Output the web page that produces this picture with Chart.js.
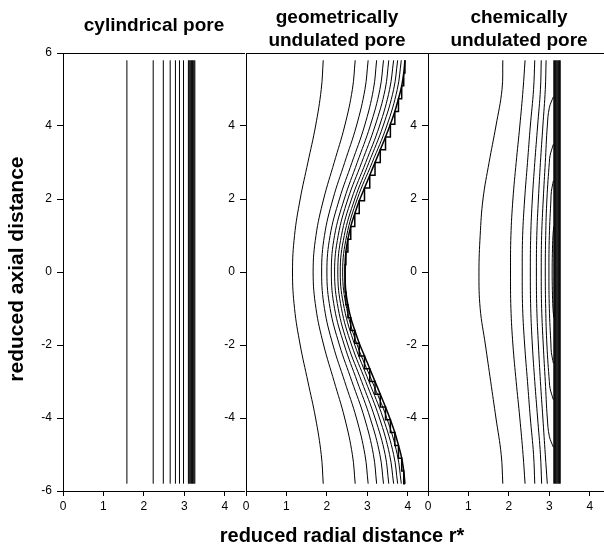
<!DOCTYPE html>
<html>
<head>
<meta charset="utf-8">
<script src="https://cdn.jsdelivr.net/npm/chart.js@4.4.0/dist/chart.umd.min.js"></script>
<style>
    html, body { margin: 0; padding: 0; background: #fff; overflow: hidden; }
    #wrap { position: relative; width: 604px; height: 551px; overflow: hidden; }
    #wrap canvas { position: absolute; top: 0; }
    #xTitle {
        position: absolute; left: 142px; width: 400px; top: 524px;
        text-align: center; line-height: 26px; white-space: nowrap;
        font: bold 20px 'Liberation Sans', Arial, sans-serif; color: #000;
    }
</style>
</head>
<body>
<div id="wrap">
    <canvas id="cyl" width="245" height="551" style="left:0px"></canvas>
    <canvas id="geo" width="245" height="551" style="left:183px"></canvas>
    <canvas id="chem" width="245" height="551" style="left:365px"></canvas>
    <div id="xTitle">reduced radial distance r*</div>
</div>
<script>
// Tick values
const xTicks = [0, 1, 2, 3, 4];
const yTicksFirst = [-6, -4, -2, 0, 2, 4, 6];
const yTicksInner = [-4, -2, 0, 2, 4];

// Cylindrical pore: straight contours, r* of each line
const cylEndsY = [-5.8, 5.8];
const cylLinesX = [1.58, 2.23, 2.48, 2.65, 2.78, 2.88, 2.98,
    3.10, 3.12, 3.14, 3.16, 3.18, 3.20, 3.22, 3.24, 3.26];

// Geometrically undulated pore: contours read at these heights
const geoY = [-5.8, -5, -4, -3, -2, -1, 0, 1, 2, 3, 4, 5, 5.8];
const geoLinesX = [
    [1.91, 1.86, 1.72, 1.53, 1.34, 1.20, 1.15, 1.20, 1.34, 1.53, 1.72, 1.86, 1.91],
    [2.70, 2.63, 2.44, 2.18, 1.92, 1.73, 1.66, 1.73, 1.92, 2.18, 2.44, 2.63, 2.70],
    [3.02, 2.94, 2.73, 2.44, 2.15, 1.94, 1.87, 1.94, 2.15, 2.44, 2.73, 2.94, 3.02],
    [3.23, 3.15, 2.93, 2.62, 2.31, 2.08, 2.00, 2.08, 2.31, 2.62, 2.93, 3.15, 3.23],
    [3.40, 3.31, 3.07, 2.75, 2.43, 2.19, 2.11, 2.19, 2.43, 2.75, 3.07, 3.31, 3.40],
    [3.53, 3.44, 3.19, 2.86, 2.52, 2.28, 2.19, 2.28, 2.52, 2.86, 3.19, 3.44, 3.53],
    [3.65, 3.55, 3.30, 2.96, 2.61, 2.36, 2.27, 2.36, 2.61, 2.96, 3.30, 3.55, 3.65],
    [3.75, 3.65, 3.39, 3.04, 2.69, 2.43, 2.33, 2.43, 2.69, 3.04, 3.39, 3.65, 3.75],
    [3.84, 3.74, 3.48, 3.12, 2.75, 2.49, 2.39, 2.49, 2.75, 3.12, 3.48, 3.74, 3.84]
];
// jagged pore wall
const geoWallY = [-5.8, -5.45, -5.1, -4.75, -4.4, -4.05, -3.7, -3.35, -3.0, -2.65, -2.3, -1.95, -1.6, -1.25, -0.9,
    -0.55, -0.2, 0.2, 0.55, 0.9, 1.25, 1.6, 1.95, 2.3, 2.65, 3.0, 3.35, 3.7, 4.05, 4.4, 4.75, 5.1, 5.45, 5.8];
const geoWallX = [3.93, 3.90, 3.85, 3.77, 3.68, 3.57, 3.45, 3.32, 3.19, 3.06, 2.93, 2.80, 2.69, 2.59, 2.52,
    2.47, 2.45, 2.45, 2.47, 2.52, 2.59, 2.69, 2.80, 2.93, 3.06, 3.19, 3.32, 3.45, 3.57, 3.68, 3.77, 3.85, 3.90, 3.93];

// Chemically undulated pore
const chemY = [-5.8, -5, -4, -3, -2, -1, 0, 1, 2, 3, 4, 5, 5.8];
const chemLinesX = [
    [1.85, 1.81, 1.68, 1.55, 1.42, 1.29, 1.26, 1.29, 1.36, 1.51, 1.68, 1.83, 1.85],
    [2.40, 2.35, 2.27, 2.18, 2.10, 2.05, 2.04, 2.05, 2.10, 2.18, 2.27, 2.35, 2.40],
    [2.64, 2.61, 2.53, 2.46, 2.39, 2.34, 2.33, 2.34, 2.39, 2.46, 2.53, 2.61, 2.64],
    [2.81, 2.78, 2.71, 2.64, 2.58, 2.54, 2.53, 2.54, 2.58, 2.64, 2.71, 2.78, 2.80],
    [2.95, 2.90, 2.84, 2.78, 2.73, 2.69, 2.68, 2.69, 2.73, 2.78, 2.84, 2.90, 2.92]
];
// closed contours that leave and re-enter the wall
const chemLoopAY = [-4.8, -4.5, -4, -3, -2, -1, 0, 1, 2, 3, 4, 4.5, 4.8];
const chemLoopAX = [3.10, 3.00, 2.95, 2.90, 2.85, 2.81, 2.80, 2.81, 2.85, 2.90, 2.95, 3.00, 3.10];
const chemLoopBY = [-3.5, -3.2, -3, -2, -1, 0, 1, 2, 3, 3.2, 3.5];
const chemLoopBX = [3.10, 3.02, 3.00, 2.94, 2.91, 2.90, 2.91, 2.94, 3.00, 3.02, 3.10];
const chemLoopCY = [-2.5, -2.2, -2, -1, 0, 1, 2, 2.2, 2.5];
const chemLoopCX = [3.10, 3.05, 3.04, 3.00, 2.99, 3.00, 3.04, 3.05, 3.10];
const chemLoopDY = [-1.25, -1, -0.5, 0, 0.5, 1, 1.25];
const chemLoopDX = [3.11, 3.09, 3.075, 3.07, 3.075, 3.09, 3.11];
const chemWallX = [3.11, 3.13, 3.15, 3.17, 3.19, 3.21, 3.23, 3.25, 3.27];

const fontFamily = "'Liberation Sans', Arial, sans-serif";

// Helpers to turn the arrays into point lists
function curve(xs, ys, extra) {
    return Object.assign({
        data: ys.map((y, i) => ({ x: xs[i], y: y })),
        showLine: true,
        borderColor: '#000',
        borderWidth: 1,
        pointRadius: 0,
        tension: 0.4,
        fill: false
    }, extra || {});
}

function straight(x, ys) {
    return curve(ys.map(() => x), ys, { tension: 0 });
}

// Build one panel
function makePanel(id, title, titlePad, datasets, yTicks, firstPanel) {
    const axisLine = { color: '#000', width: 1 };
    const tickFont = { family: fontFamily, size: 12 };

    return new Chart(document.getElementById(id), {
        type: 'scatter',
        data: { datasets: datasets },
        options: {
            responsive: false,
            animation: false,
            devicePixelRatio: 1,
            layout: { padding: 0 },
            plugins: {
                legend: { display: false },
                tooltip: { enabled: false },
                title: {
                    display: true,
                    text: title,
                    fullSize: false,
                    color: '#000',
                    font: { family: fontFamily, size: 19, weight: 'bold', lineHeight: 1.2 },
                    padding: titlePad
                }
            },
            scales: {
                x: {
                    type: 'linear',
                    position: 'bottom',
                    min: 0,
                    max: 4.5,
                    afterBuildTicks: s => { s.ticks = xTicks.map(v => ({ value: v })); },
                    afterFit: s => { s.height = 60; },
                    grid: { drawOnChartArea: false, tickLength: 5, color: '#000' },
                    border: axisLine,
                    ticks: { font: tickFont, color: '#000', padding: 3, maxRotation: 0, callback: v => String(v) }
                },
                x2: {
                    type: 'linear',
                    position: 'top',
                    min: 0,
                    max: 4.5,
                    afterFit: s => { s.height = 0; },
                    ticks: { display: false },
                    grid: { drawOnChartArea: false, drawTicks: false },
                    border: axisLine
                },
                y: {
                    type: 'linear',
                    position: 'left',
                    min: -6,
                    max: 6,
                    afterBuildTicks: s => { s.ticks = yTicks.map(v => ({ value: v })); },
                    afterFit: s => { s.width = 63; },
                    grid: { drawOnChartArea: false, tickLength: 6, color: '#000' },
                    border: axisLine,
                    ticks: { font: tickFont, color: '#000', padding: 5, callback: v => String(v) },
                    title: {
                        display: firstPanel,
                        text: ' reduced axial distance',
                        color: '#000',
                        font: { family: fontFamily, size: 21, weight: 'bold', lineHeight: 1.2 },
                        padding: { top: 4.5, bottom: 0 }
                    }
                }
            }
        }
    });
}

// Panel datasets
const cylSets = cylLinesX.map(x => straight(x, cylEndsY));

const geoSets = geoLinesX.map(xs => curve(xs, geoY));
geoSets.push(curve(geoWallX, geoWallY, { stepped: true, tension: 0, borderWidth: 1.5 }));
geoSets.push(curve(geoWallX, geoWallY, { borderWidth: 1.5 }));

const chemSets = chemLinesX.map(xs => curve(xs, chemY));
chemSets.push(curve(chemLoopAX, chemLoopAY));
chemSets.push(curve(chemLoopBX, chemLoopBY));
chemSets.push(curve(chemLoopCX, chemLoopCY));
chemSets.push(curve(chemLoopDX, chemLoopDY));
chemWallX.forEach(x => chemSets.push(straight(x, cylEndsY)));

makePanel('cyl', 'cylindrical pore', { top: 14.6, bottom: 15.6 }, cylSets, yTicksFirst, true);
makePanel('geo', ['geometrically', 'undulated pore'], { top: 6.6, bottom: 0.8 }, geoSets, yTicksInner, false);
makePanel('chem', ['chemically', 'undulated pore'], { top: 6.6, bottom: 0.8 }, chemSets, yTicksInner, false);
</script>
</body>
</html>
